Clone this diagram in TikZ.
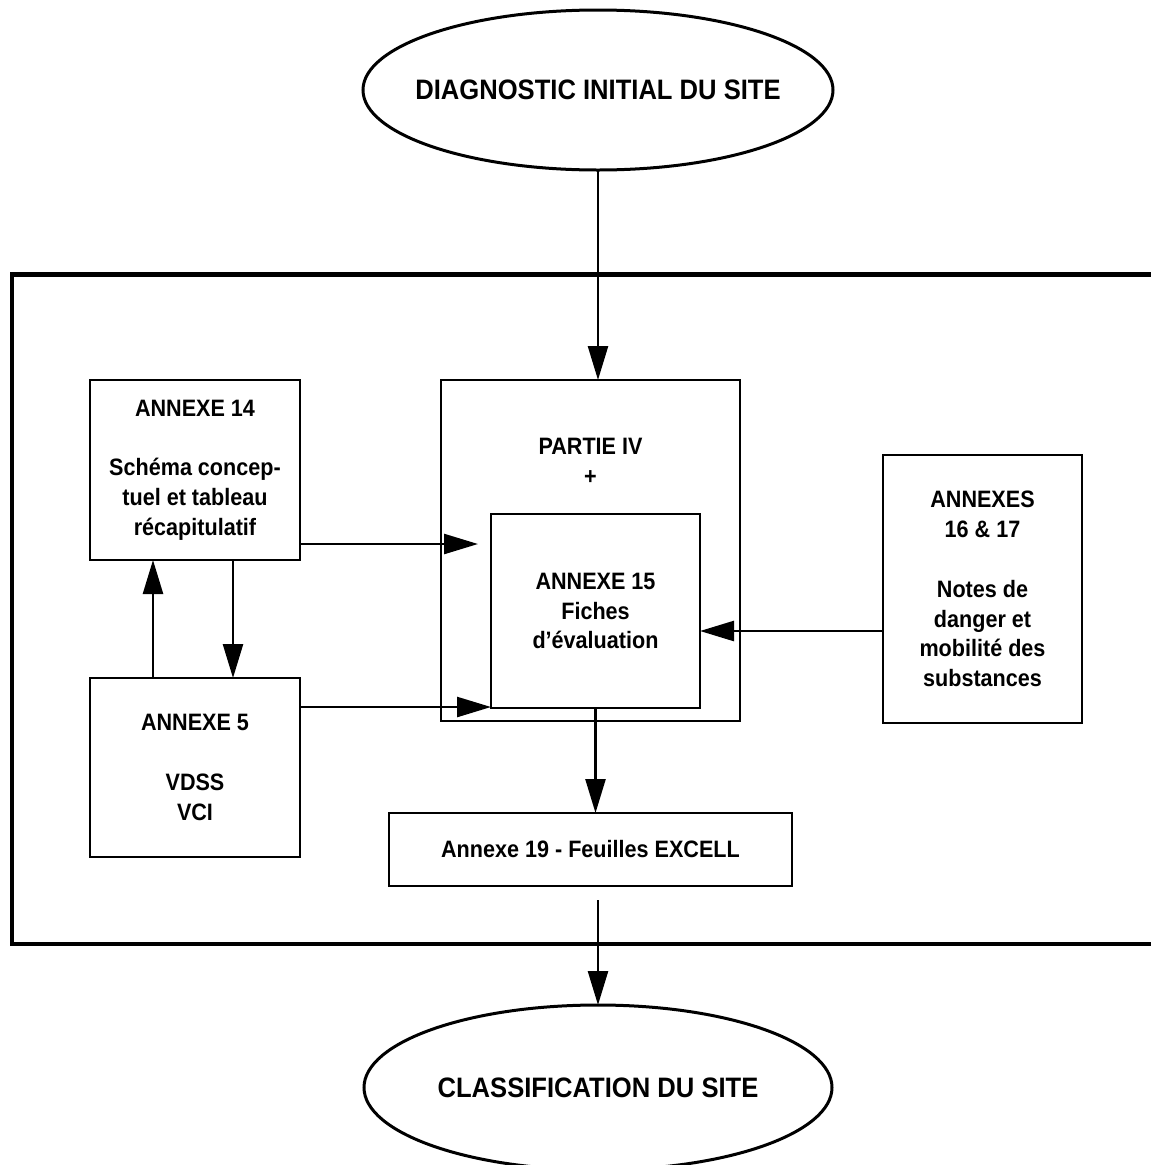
\documentclass[tikz,border=0pt]{standalone}
\usepackage{fontspec}
\setmainfont{Liberation Sans}[FakeStretch=0.91]
\usepackage{tikz}
\usetikzlibrary{arrows.meta,positioning,shapes.geometric}

\begin{document}
\begin{tikzpicture}[x=1mm, y=1mm, >={Triangle[length=6.8mm, width=4mm]},
	   font=\bfseries\fontsize{13.5}{17}\selectfont,
	   bloc/.style={draw, line width=0.5mm, inner sep=0pt, outer sep=0pt, align=center},
	   ovale/.style={draw, ellipse, line width=0.6mm, inner xsep=-12mm, inner ysep=0pt, outer sep=0pt,
	     minimum width=94mm, minimum height=32mm, font=\bfseries\fontsize{16}{19}\selectfont},
	   fleche/.style={->, line width=0.5mm},
	   cadre/.style={line width=0.9mm}]
	  \useasboundingbox (0,0) rectangle (230,-233);
	  \node[ovale] (diag) at (119.6,-18) {DIAGNOSTIC INITIAL DU SITE};
	  \node[bloc, minimum width=59.8mm, minimum height=68.2mm, below=42mm of diag, xshift=-1.5mm] (partie) {};
	  \node (ptitre) at ([yshift=-16.2mm]partie.north) [align=center] {PARTIE IV\\+};
	  \node[bloc, minimum width=41.8mm, minimum height=38.8mm, above right=2.6mm and 10mm of partie.south west] (a15) {ANNEXE 15\\Fiches\\d'évaluation};
	  \node[bloc, minimum width=42mm, minimum height=36mm, below left=0mm and 28.2mm of partie.north west] (a14) {ANNEXE 14\\[5.8mm]Schéma concep-\\tuel et tableau\\récapitulatif};
	  \node[bloc, minimum width=42mm, minimum height=35.8mm, below=23.6mm of a14] (a5) {ANNEXE 5\\[6mm]VDSS\\VCI};
	  \node[bloc, minimum width=39.8mm, minimum height=53.6mm, right=28.6mm of partie, yshift=-7.7mm] (a1617) {ANNEXES\\16 \& 17\\[6mm]Notes de\\danger et\\mobilité des\\substances};
	  \node[bloc, minimum width=80.6mm, minimum height=14.6mm, below=18.4mm of partie] (a19) {Annexe 19 - Feuilles EXCELL};
	  \node[ovale, minimum width=93.6mm, minimum height=33mm, below=23.8mm of a19, xshift=1.5mm] (classif) {CLASSIFICATION DU SITE};
	  \draw[cadre] (232,-54.9) -- (2.4,-54.9) -- (2.4,-188.8) -- (232,-188.8);
	  \coordinate (s14) at ([yshift=3.2mm]a14.south east);
	  \coordinate (s5) at ([yshift=-5.8mm]a5.north east);
	  \coordinate (d14) at ([xshift=-13.4mm]a14.south east);
	  \coordinate (m5) at ([xshift=12.6mm]a5.north west);
	  \coordinate (s1617) at ([yshift=-8.4mm]a1617.west);
	  \draw[fleche] (diag.south) -- (diag.south |- partie.north);
	  \draw[fleche, shorten >=2.6mm] (s14) -- (s14 -| a15.west);
	  \draw[fleche] (s5) -- (s5 -| a15.west);
	  \draw[fleche] (d14) -- (d14 |- a5.north);
	  \draw[fleche] (m5) -- (m5 |- a14.south);
	  \draw[fleche] (s1617) -- (s1617 -| a15.east);
	  \draw[fleche] (a15.south) -- (a15.south |- a19.north);
	  \draw[fleche, shorten <=2.8mm] (classif.north |- a19.south) -- (classif.north);
	\end{tikzpicture}
\end{document}
